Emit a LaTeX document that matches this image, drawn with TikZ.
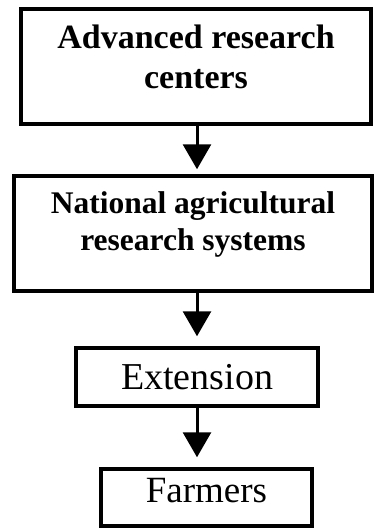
\documentclass[tikz,border=0pt]{standalone}
\usepackage{fontspec}
\setmainfont{Liberation Serif}
\usetikzlibrary{arrows.meta,positioning}

\begin{document}
\begin{tikzpicture}[x=1pt,y=1pt,
  box/.style={draw,line width=3.5pt,inner sep=0pt,align=center},
  arr/.style={-{Triangle[length=25pt,width=28pt]},line width=3pt},
]
\useasboundingbox (0,0) rectangle (374,-528);
\node[box,minimum width=350pt,minimum height=115pt,text depth=20pt,
      font=\fontsize{34}{40}\selectfont\bfseries] (adv) at (196,-66.5)
  {Advanced research\\centers};
\node[box,minimum width=358pt,minimum height=115pt,text depth=25pt,
      font=\fontsize{31.5}{37}\selectfont\bfseries] (nars) at (193,-233.5)
  {National agricultural\\research systems};
\node[box,minimum width=242pt,minimum height=58pt,
      font=\fontsize{38}{44}\selectfont] (ext) at (197,-377)
  {Extension};
\node[box,minimum width=211pt,minimum height=57pt,text depth=14pt,
      font=\fontsize{37}{44}\selectfont] (farm) at (206.5,-497.5)
  {Farmers};
\draw[arr,shorten >=5pt] (adv.south -| ext) -- (nars.north -| ext);
\draw[arr,shorten >=10pt] (nars.south -| ext) -- (ext.north);
\draw[arr,shorten >=10pt] (ext.south) -- (farm.north -| ext);
\end{tikzpicture}
\end{document}
